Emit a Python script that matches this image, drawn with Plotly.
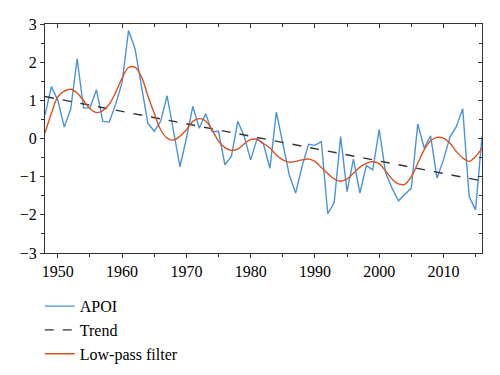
import plotly.graph_objects as go

years = list(range(1948, 2017))

apoi = [0.62, 1.36, 1.0, 0.30, 0.77, 2.09, 0.80, 0.81, 1.28, 0.45, 0.43,
        0.90, 1.47, 2.83, 2.36, 1.40, 0.40, 0.19, 0.45, 1.12, 0.20, -0.74,
        0.0, 0.84, 0.27, 0.65, 0.18, 0.19, -0.69, -0.47, 0.45, 0.05, -0.56,
        -0.01, -0.15, -0.78, 0.69, -0.12, -0.95, -1.43, -0.73, -0.15, -0.18,
        -0.08, -1.97, -1.68, 0.05, -1.39, -0.54, -1.43, -0.71, -0.82, 0.23,
        -0.90, -1.30, -1.63, -1.46, -1.30, 0.38, -0.25, 0.07, -1.04, -0.56,
        0.03, 0.31, 0.78, -1.52, -1.87, 0.05]

lowpass = [0.14, 0.66, 1.09, 1.24, 1.29, 1.19, 0.99, 0.78, 0.68, 0.73, 0.90,
           1.21, 1.58, 1.86, 1.87, 1.62, 1.12, 0.66, 0.23, 0.01, -0.04, 0.06,
           0.23, 0.45, 0.52, 0.46, 0.23, -0.07, -0.24, -0.31, -0.28, -0.14,
           -0.03, -0.02, -0.13, -0.25, -0.43, -0.56, -0.62, -0.60, -0.56, -0.54,
           -0.60, -0.76, -0.92, -1.06, -1.12, -1.06, -0.91, -0.75, -0.65, -0.61,
           -0.66, -0.85, -1.06, -1.19, -1.20, -1.00, -0.65, -0.30, -0.06, 0.03,
           0.01, -0.12, -0.34, -0.51, -0.60, -0.47, -0.25]

trend_years = [1948, 2016]
trend_vals = [1.10, -1.11]

x_ticks = [1950, 1960, 1970, 1980, 1990, 2000, 2010]
y_ticks = [-3, -2, -1, 0, 1, 2, 3]
y_tick_text = ["\u22123", "\u22122", "\u22121", "0", "1", "2", "3"]

FONT = "Liberation Serif"
AX = "#333333"

fig = go.Figure()
fig.add_trace(go.Scatter(x=years, y=apoi, mode="lines", name="APOI",
                         line=dict(color="#4A93DA", width=1.4)))
fig.add_trace(go.Scatter(x=trend_years, y=trend_vals, mode="lines", name="Trend",
                         line=dict(color="#333333", width=1.4, dash="dash")))
fig.add_trace(go.Scatter(x=years, y=lowpass, mode="lines", name="Low-pass filter",
                         line=dict(color="#D9531E", width=1.4, shape="spline", smoothing=1.0)))
# dummy trace to activate mirrored axes (top/right with inward ticks)
fig.add_trace(go.Scatter(x=[], y=[], xaxis="x2", yaxis="y2", showlegend=False,
                         hoverinfo="skip"))

fig.update_layout(
    width=492, height=367,
    margin=dict(l=37, r=18, t=16, b=122, autoexpand=False),
    paper_bgcolor="white", plot_bgcolor="white",
    font=dict(family=FONT, size=16, color="black"),
    showlegend=True,
    legend=dict(x=-0.012, y=-0.158, xanchor="left", yanchor="top",
                orientation="v", bgcolor="rgba(0,0,0,0)",
                font=dict(family=FONT, size=16, color="black"),
                tracegroupgap=0, itemwidth=30),
    xaxis=dict(range=[1948, 2016], tickvals=x_ticks, showgrid=False, zeroline=False,
               showline=True, linecolor=AX, linewidth=1,
               ticks="outside", ticklen=4, tickcolor=AX,
               minor=dict(dtick=5, tick0=1950, ticks="outside", ticklen=3, tickcolor=AX),
               tickfont=dict(family=FONT, size=16, color="black")),
    yaxis=dict(range=[-3, 3], tickvals=y_ticks, ticktext=y_tick_text, showgrid=False,
               zeroline=False, showline=True, linecolor=AX, linewidth=1,
               ticks="outside", ticklen=4, tickcolor=AX,
               minor=dict(dtick=0.5, tick0=0, ticks="outside", ticklen=3, tickcolor=AX),
               tickfont=dict(family=FONT, size=16, color="black")),
    xaxis2=dict(range=[1948, 2016], overlaying="x", side="top", anchor="y2",
                tickvals=x_ticks, showticklabels=False, showgrid=False, zeroline=False,
                showline=True, linecolor=AX, linewidth=1,
                ticks="inside", ticklen=4, tickcolor=AX,
                minor=dict(dtick=5, tick0=1950, ticks="inside", ticklen=3, tickcolor=AX)),
    yaxis2=dict(range=[-3, 3], overlaying="y", side="right", anchor="x2",
                tickvals=y_ticks, showticklabels=False, showgrid=False, zeroline=False,
                showline=True, linecolor=AX, linewidth=1,
                ticks="inside", ticklen=4, tickcolor=AX,
                minor=dict(dtick=0.5, tick0=0, ticks="inside", ticklen=3, tickcolor=AX)),
)

fig.write_html("out.html")
